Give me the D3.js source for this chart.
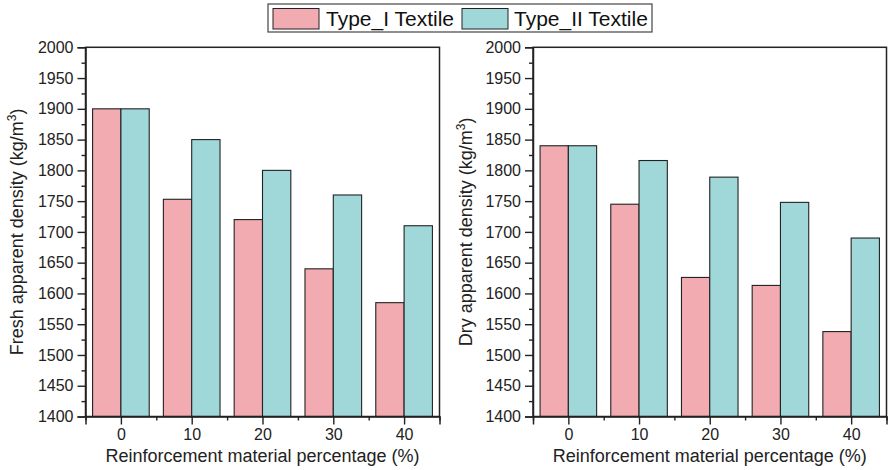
<!DOCTYPE html>
<html>
<head>
<meta charset="utf-8">
<script src="https://cdn.jsdelivr.net/npm/d3@7"></script>
<style>
  body { margin: 0; background: #fff; }
  svg { display: block; font-family: "Liberation Sans", Arial, sans-serif; }
</style>
</head>
<body>
<svg id="chart" width="888" height="470"></svg>
<script>
// ---- data ----
const categories = [0, 10, 20, 30, 40];
const seriesNames = ["Type_I Textile", "Type_II Textile"];
const freshTypeI = [1900, 1753, 1720, 1640, 1585];
const freshTypeII = [1900, 1850, 1800, 1760, 1710];
const dryTypeI = [1840, 1745, 1626, 1613, 1538];
const dryTypeII = [1840, 1816, 1789, 1748, 1690];
const yTicks = [1400, 1450, 1500, 1550, 1600, 1650, 1700, 1750, 1800, 1850, 1900, 1950, 2000];
const xTicks = [0, 10, 20, 30, 40];
const colors = ["#F2ABB0", "#A0D8D9"];
const FONT = "'Liberation Sans', Arial, sans-serif";

const svg = d3.select("#chart");

function panel(opts) {
  const { x0, x1, yTop, yBottom, s1, s2, title, titleX } = opts;
  const g = svg.append("g");
  const x = d3.scaleLinear().domain([-5, 45]).range([x0, x1]);
  const y = d3.scaleLinear().domain([1400, 2000]).range([yBottom, yTop]);
  const barW = x(4) - x(0);

  const data = [];
  categories.forEach((c, i) => {
    data.push({ c, v: s1[i], s: 0 });
    data.push({ c, v: s2[i], s: 1 });
  });
  g.selectAll("rect.bar").data(data).enter().append("rect")
    .attr("class", "bar")
    .attr("x", d => d.s === 0 ? x(d.c - 4) : x(d.c))
    .attr("y", d => y(d.v))
    .attr("width", barW)
    .attr("height", d => y(1400) - y(d.v))
    .attr("fill", d => colors[d.s])
    .attr("stroke", "#222")
    .attr("stroke-width", 1.1);

  g.append("rect")
    .attr("x", x0).attr("y", yTop)
    .attr("width", x1 - x0).attr("height", yBottom - yTop)
    .attr("fill", "none").attr("stroke", "#222").attr("stroke-width", 1.5);

  const yAxis = d3.axisLeft(y).tickValues(yTicks).tickSize(8).tickPadding(4).tickFormat(d3.format("d"));
  const ya = g.append("g").attr("transform", `translate(${x0},0)`).call(yAxis);
  ya.attr("font-family", FONT);
  ya.select(".domain").attr("stroke", "#222").attr("stroke-width", 1.5);
  ya.selectAll(".tick line").attr("stroke", "#222").attr("stroke-width", 1.4);
  ya.selectAll(".tick text").attr("font-size", 16).attr("fill", "#222");
  const yMinor = d3.axisLeft(y).tickValues(yTicks.slice(0, -1).map(v => v + 25)).tickSize(4).tickFormat("");
  const ym = g.append("g").attr("transform", `translate(${x0},0)`).call(yMinor);
  ym.select(".domain").remove();
  ym.selectAll(".tick line").attr("stroke", "#222").attr("stroke-width", 1.4);

  const xAxis = d3.axisBottom(x).tickValues(xTicks).tickSize(8).tickPadding(4).tickFormat(d3.format("d"));
  const xa = g.append("g").attr("transform", `translate(0,${yBottom})`).call(xAxis);
  xa.attr("font-family", FONT);
  xa.select(".domain").attr("stroke", "#222").attr("stroke-width", 1.5);
  xa.selectAll(".tick line").attr("stroke", "#222").attr("stroke-width", 1.4);
  xa.selectAll(".tick text").attr("font-size", 16).attr("fill", "#222");
  const xMinor = d3.axisBottom(x).tickValues([-5, 5, 15, 25, 35, 45]).tickSize(4).tickFormat("");
  const xm = g.append("g").attr("transform", `translate(0,${yBottom})`).call(xMinor);
  xm.select(".domain").remove();
  xm.selectAll(".tick line").attr("stroke", "#222").attr("stroke-width", 1.4);

  g.append("text")
    .attr("x", (x0 + x1) / 2).attr("y", 462)
    .attr("text-anchor", "middle").attr("font-size", 18).attr("fill", "#222")
    .attr("font-family", FONT)
    .text("Reinforcement material percentage (%)");

  const yt = g.append("text")
    .attr("transform", `translate(${titleX},${(yTop + yBottom) / 2}) rotate(-90)`)
    .attr("text-anchor", "middle").attr("font-size", 18).attr("fill", "#222")
    .attr("font-family", FONT);
  yt.append("tspan").text(title + " (kg/m");
  yt.append("tspan").attr("font-size", 12).attr("dy", -7).text("3");
  yt.append("tspan").attr("dy", 7).text(")");
}

panel({ x0: 85.5, x1: 439.5, yTop: 47.3, yBottom: 416.5, s1: freshTypeI, s2: freshTypeII,
        title: "Fresh apparent density", titleX: 23 });
panel({ x0: 533, x1: 886.5, yTop: 47.3, yBottom: 416.5, s1: dryTypeI, s2: dryTypeII,
        title: "Dry apparent density", titleX: 472 });

const lg = svg.append("g").attr("font-family", FONT);
lg.append("rect").attr("x", 268).attr("y", 4).attr("width", 384).attr("height", 28)
  .attr("fill", "#fff").attr("stroke", "#444").attr("stroke-width", 1.2);
const legendItems = [
  { name: seriesNames[0], color: colors[0], sx: 273, tx: 326 },
  { name: seriesNames[1], color: colors[1], sx: 462, tx: 514 }
];
legendItems.forEach(it => {
  lg.append("rect").attr("x", it.sx).attr("y", 8.5).attr("width", 46).attr("height", 20.5)
    .attr("fill", it.color).attr("stroke", "#222").attr("stroke-width", 1);
  lg.append("text").attr("x", it.tx).attr("y", 26).attr("font-size", 21).attr("fill", "#111")
    .text(it.name);
});
</script>
</body>
</html>
